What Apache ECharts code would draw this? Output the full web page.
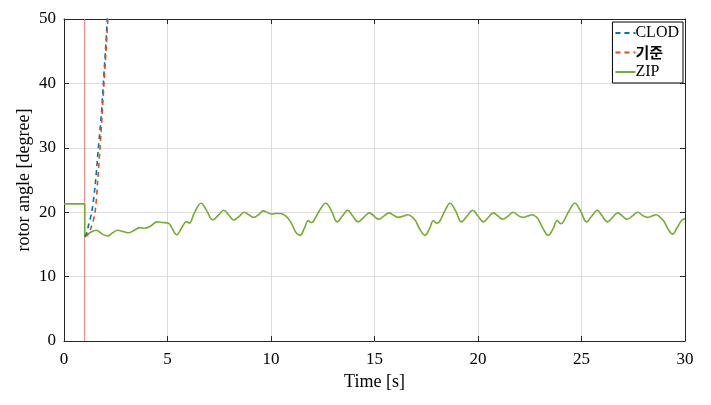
<!DOCTYPE html>
<html>
<head>
<meta charset="utf-8">
<script src="https://cdn.jsdelivr.net/npm/echarts@6/dist/echarts.min.js"></script>
<style>
html, body { margin: 0; padding: 0; background: #fff; }
#myChart { width: 711px; height: 405px; }
</style>
</head>
<body>
<div id="myChart"></div>
<script>
// 데이터 (time [s], rotor angle [degree])
var xTicks = [0, 5, 10, 15, 20, 25, 30];
var yTicks = [0, 10, 20, 30, 40, 50];
var faultTime = [1, 1];
var faultRange = [0, 50];

var clod = [[1.0,16.2],[1.1,16.8],[1.2,18.2],[1.34,20],[1.5,24],[1.66,30],[1.8,35],[1.9,40],[2.0,45],[2.1,50.5]];
var base = [[1.0,16.2],[1.15,16.5],[1.3,17.5],[1.5,20],[1.62,24.5],[1.74,30],[1.84,35],[1.93,40],[2.03,45],[2.13,50.5]];

var zipPre = [[0,21.3],[1,21.3],[1,16.2]];
var zipPost = [[1.0,16.2],[1.25,16.8],[1.55,17.2],[1.85,16.6],[2.1,16.3],[2.35,16.8],[2.6,17.2],[2.85,17.0],[3.1,16.8],
	[3.4,17.2],[3.65,17.6],[3.9,17.5],[4.2,17.9],[4.5,18.5],[4.75,18.4],[5.05,18.3],
	[5.2,17.6],[5.45,16.5],[5.65,17.4],[5.85,18.4],[5.95,18.5],[6.05,18.3],[6.3,19.9],[6.62,21.4],[6.9,20.2],[7.18,18.8],
	[7.45,19.5],[7.72,20.3],[7.95,19.6],[8.2,18.8],[8.45,19.3],[8.7,20.0],[8.93,19.6],[9.15,19.2],[9.4,19.6],[9.63,20.2],
	[9.85,19.9],[10.05,19.7],[10.25,19.8],[10.45,19.8],[10.75,19.3],
	[11.0,18.2],[11.2,16.9],[11.4,16.4],[11.6,17.4],[11.8,18.7],[11.93,18.4],[12.05,18.6],[12.35,20.3],[12.65,21.4],[12.92,20.2],
	[13.2,18.5],[13.45,19.4],[13.7,20.3],[13.95,19.4],[14.2,18.5],[14.48,19.2],[14.75,19.9],[14.98,19.4],[15.2,18.9],[15.45,19.4],
	[15.7,19.9],[15.93,19.5],[16.15,19.2],[16.4,19.4],[16.6,19.6],[16.8,19.3],[16.98,18.7],
	[17.2,17.3],[17.44,16.4],[17.65,17.4],[17.85,18.7],[18.0,18.3],[18.15,18.6],[18.4,20.2],[18.65,21.4],[18.92,20.2],
	[19.2,18.5],[19.47,19.4],[19.74,20.3],[20.0,19.4],[20.26,18.5],[20.5,19.2],[20.74,19.9],[20.97,19.4],[21.2,18.9],[21.45,19.4],
	[21.7,20.0],[21.93,19.5],[22.16,19.2],[22.4,19.4],[22.62,19.6],[22.8,19.3],[22.95,18.7],
	[23.15,17.4],[23.4,16.4],[23.62,17.4],[23.83,18.7],[24.0,18.2],[24.12,18.5],[24.4,20.2],[24.68,21.4],[24.95,20.2],
	[25.25,18.5],[25.5,19.4],[25.76,20.3],[26.0,19.4],[26.25,18.5],[26.5,19.2],[26.75,19.9],[26.98,19.4],[27.2,18.9],[27.45,19.4],
	[27.71,20.0],[27.95,19.5],[28.18,19.2],[28.4,19.4],[28.6,19.6],[28.8,19.2],[28.98,18.6],
	[29.2,17.3],[29.4,16.6],[29.6,17.5],[29.83,18.7],[30.0,19.0]];

var myChart = echarts.init(document.getElementById('myChart'));
var serif = '"Liberation Serif", "Times New Roman", serif';
var kor = '"Noto Sans CJK KR", sans-serif';

function axisBase(show) {
	return {
		axisLine: { show: true, onZero: false, lineStyle: { color: '#262626', width: 1 } },
		axisTick: { show: true, inside: true, length: 5, lineStyle: { color: '#262626' } },
		axisLabel: { show: show, color: '#000', fontFamily: serif, fontSize: 17 },
		splitLine: { show: show, lineStyle: { color: '#dcdcdc', width: 1 } }
	};
}

var xMain = Object.assign(axisBase(true), {
	type: 'value', min: xTicks[0], max: xTicks[xTicks.length - 1], interval: 5,
	name: 'Time [s]', nameLocation: 'middle', nameGap: 32, nameMoveOverlap: false,
	nameTextStyle: { color: '#000', fontFamily: serif, fontSize: 18 }
});
xMain.axisLabel.margin = 10;
var xTop = Object.assign(axisBase(false), {
	type: 'value', position: 'top', min: xTicks[0], max: xTicks[xTicks.length - 1], interval: 5
});
var yMain = Object.assign(axisBase(true), {
	type: 'value', min: yTicks[0], max: yTicks[yTicks.length - 1], interval: 10,
	name: 'rotor angle [degree]', nameLocation: 'middle', nameGap: 31, nameMoveOverlap: false,
	nameTextStyle: { color: '#000', fontFamily: serif, fontSize: 18 }
});
yMain.axisLabel.margin = 8;
var yRight = Object.assign(axisBase(false), {
	type: 'value', position: 'right', min: yTicks[0], max: yTicks[yTicks.length - 1], interval: 10
});

var option = {
	animation: false,
	backgroundColor: '#fff',
	grid: { left: 64, right: 26, top: 19, bottom: 64, containLabel: false },
	legend: {
		right: 28, top: 22, orient: 'vertical',
		backgroundColor: '#fff', borderColor: '#000', borderWidth: 1, borderRadius: 0,
		padding: [3, 4, 3, 2], itemGap: 4, itemWidth: 20, itemHeight: 14,
		itemStyle: { opacity: 0 },
		textStyle: { color: '#000', fontFamily: serif, fontSize: 16, padding: [0, 0, 0, -5] },
		data: [
			{ name: 'CLOD' },
			{ name: '기준', textStyle: { fontFamily: kor, fontWeight: 'bold', fontSize: 15 } },
			{ name: 'ZIP' }
		]
	},
	xAxis: [xMain, xTop],
	yAxis: [yMain, yRight],
	series: [
		{
			name: 'fault', type: 'line', data: [[faultTime[0], faultRange[0]], [faultTime[1], faultRange[1]]],
			symbol: 'none', silent: true, lineStyle: { color: '#e07878', width: 1 }, z: 1
		},
		{
			name: 'CLOD', type: 'line', data: clod, symbol: 'none', smooth: 0.3,
			itemStyle: { color: '#0072BD' }, lineStyle: { color: '#0072BD', width: 1.6, type: [5, 4] }, z: 3
		},
		{
			name: '기준', type: 'line', data: base, symbol: 'none', smooth: 0.3,
			itemStyle: { color: '#D95319' }, lineStyle: { color: '#D95319', width: 1.6, type: [5, 4] }, z: 3
		},
		{
			name: 'ZIP', type: 'line', data: zipPre, symbol: 'none',
			itemStyle: { color: '#77AC30' }, lineStyle: { color: '#77AC30', width: 1.6 }, z: 2
		},
		{
			name: 'ZIP', type: 'line', data: zipPost, symbol: 'none', smooth: 0.4,
			itemStyle: { color: '#77AC30' }, lineStyle: { color: '#77AC30', width: 1.6 }, z: 2
		}
	]
};

myChart.setOption(option);
</script>
</body>
</html>
